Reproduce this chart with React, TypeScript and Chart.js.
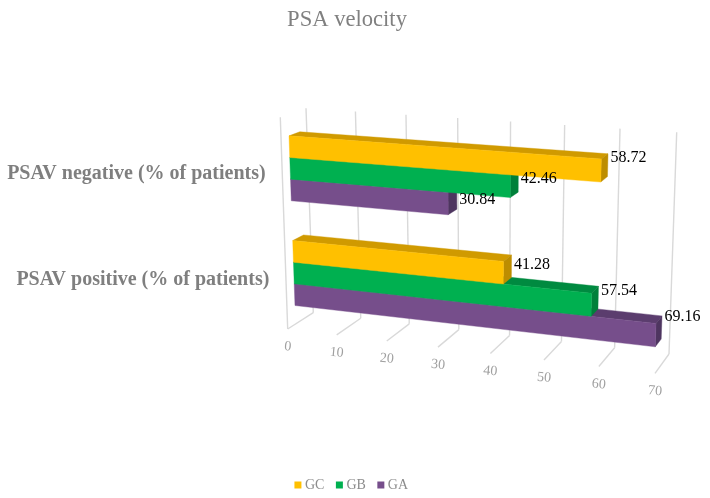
import React, { useEffect, useRef } from "react";
import { Chart, BarController, BarElement, CategoryScale, LinearScale, Legend, Title } from "chart.js";

const categories = ["PSAV negative (% of patients)", "PSAV positive (% of patients)"];
const seriesNames = ["GC", "GB", "GA"];
const gcValues = [58.72, 41.28];
const gbValues = [42.46, 57.54];
const gaValues = [30.84, 69.16];
const seriesColors = ["#FFC000", "#00B050", "#764E8B"];
const topColors = ["#D09A00", "#008A40", "#5B3D6E"];
const sideColors = ["#BD8D00", "#00803A", "#4E3560"];

const SERIF = "'Liberation Serif'";
const AXIS_MAX = 70;
const PERSPECTIVE = 1.083;
const BAR_FRONT = 0.31;
const BAR_BACK = 0.73;
const BAR_DROP = 0.007;
type Pt = [number, number];
// projection frame: [depth front/back][height bottom/top][value start/end]
const FRONT_BOTTOM: [Pt, Pt] = [[287.7, 329], [655, 373.3]];
const FRONT_TOP: [Pt, Pt] = [[280.3, 117.3], [662.7, 144.3]];
const BACK_BOTTOM: [Pt, Pt] = [[313.3, 312.7], [669, 354]];
const BACK_TOP: [Pt, Pt] = [[306, 108.3], [676.7, 132.3]];

const mix = (a: Pt, b: Pt, k: number): Pt => [a[0] + (b[0] - a[0]) * k, a[1] + (b[1] - a[1]) * k];
function project(t: number, h: number, d: number): Pt {
  const s = t / (t + PERSPECTIVE * (1 - t));
  const fb = mix(FRONT_BOTTOM[0], FRONT_BOTTOM[1], s);
  const ft = mix(FRONT_TOP[0], FRONT_TOP[1], s);
  const bb = mix(BACK_BOTTOM[0], BACK_BOTTOM[1], s);
  const bt = mix(BACK_TOP[0], BACK_TOP[1], s);
  return mix(mix(fb, ft, h), mix(bb, bt, h), d);
}
function poly(ctx: CanvasRenderingContext2D, pts: Pt[], color: string) {
  ctx.beginPath();
  pts.forEach((p, i) => (i ? ctx.lineTo(p[0], p[1]) : ctx.moveTo(p[0], p[1])));
  ctx.closePath();
  ctx.fillStyle = color;
  ctx.fill();
  ctx.strokeStyle = color;
  ctx.lineWidth = 0.4;
  ctx.stroke();
}
function line(ctx: CanvasRenderingContext2D, a: Pt, b: Pt) {
  ctx.beginPath();
  ctx.moveTo(a[0], a[1]);
  ctx.lineTo(b[0], b[1]);
  ctx.stroke();
}

// Bars keep their scale-driven geometry; only the way they are painted is changed.
(BarElement.prototype as any).draw = function (ctx: CanvasRenderingContext2D) {
  const chart = Chart.getChart(ctx.canvas) as any;
  if (!chart) return;
  const a = chart.chartArea;
  const { x, y, base, height } = this.getProps(["x", "y", "base", "height"]);
  const t0 = (base - a.left) / (a.right - a.left);
  const t1 = (x - a.left) / (a.right - a.left);
  const h1 = 1 - (y - height / 2 - a.top) / (a.bottom - a.top) - BAR_DROP;
  const h0 = 1 - (y + height / 2 - a.top) / (a.bottom - a.top) - BAR_DROP;
  const color = this.options.backgroundColor as string;
  const idx = seriesColors.indexOf(color);
  ctx.save();
  poly(ctx, [project(t0, h1, BAR_FRONT), project(t1, h1, BAR_FRONT), project(t1, h1, BAR_BACK), project(t0, h1, BAR_BACK)], topColors[idx]);
  poly(ctx, [project(t1, h1, BAR_FRONT), project(t1, h0, BAR_FRONT), project(t1, h0, BAR_BACK), project(t1, h1, BAR_BACK)], sideColors[idx]);
  poly(ctx, [project(t0, h1, BAR_FRONT), project(t1, h1, BAR_FRONT), project(t1, h0, BAR_FRONT), project(t0, h0, BAR_FRONT)], color);
  ctx.restore();
};

Chart.register(BarController, BarElement, CategoryScale, LinearScale, Legend, Title);

const frame3D = {
  id: "frame3D",
  afterLayout(chart: any) {
    chart.legend.left += 6;
    chart.legend.right += 6;
    chart.legend.top += 8;
    chart.legend.bottom += 8;
  },
  beforeDatasetsDraw(chart: any) {
    const { ctx, chartArea: a, scales } = chart;
    ctx.save();
    ctx.strokeStyle = "#D9D9D9";
    ctx.lineWidth = 1.4;
    line(ctx, project(0, 0, 0), project(0, 1, 0));
    scales.x.ticks.forEach((tick: any) => {
      const t = (scales.x.getPixelForValue(tick.value) - a.left) / (a.right - a.left);
      line(ctx, project(t, 0, 0), project(t, 0, 1));
      line(ctx, project(t, 0, 1), project(t, 1, 1));
    });
    ctx.restore();
  },
  afterDatasetsDraw(chart: any) {
    const { ctx, chartArea: a, scales } = chart;
    ctx.save();
    // value axis labels
    ctx.font = `14px ${SERIF}`;
    ctx.fillStyle = "#A0A0A0";
    ctx.textAlign = "center";
    ctx.textBaseline = "middle";
    scales.x.ticks.forEach((tick: any) => {
      const t = (scales.x.getPixelForValue(tick.value) - a.left) / (a.right - a.left);
      const p = project(t, 0, 0);
      ctx.save();
      ctx.translate(p[0], p[1] + 17.7);
      ctx.rotate((5 * Math.PI) / 180);
      ctx.fillText(String(tick.value), 0, 0);
      ctx.restore();
    });
    // category labels
    ctx.font = `bold 20px ${SERIF}`;
    ctx.fillStyle = "#7F7F7F";
    ctx.textAlign = "right";
    categories.forEach((label, i) => {
      const h = 1 - (scales.y.getPixelForValue(i) - a.top) / (a.bottom - a.top);
      const p = project(0, h, 0);
      ctx.fillText(label, p[0] - 16.5, p[1] + 4);
    });
    // data labels
    ctx.font = `16px ${SERIF}`;
    ctx.fillStyle = "#000000";
    ctx.textAlign = "left";
    chart.data.datasets.forEach((ds: any, di: number) => {
      chart.getDatasetMeta(di).data.forEach((el: any, i: number) => {
        const { x, y, height } = el.getProps(["x", "y", "height"]);
        const t = (x - a.left) / (a.right - a.left);
        const h = 1 - (y - height / 2 - a.top) / (a.bottom - a.top) - BAR_DROP;
        const p = project(t, h, BAR_BACK);
        ctx.fillText(ds.data[i].toFixed(2), p[0] + 2.5, p[1] + 22.2 - 21.9 * t);
      });
    });
    ctx.restore();
  },
};

export default function App() {
  const ref = useRef<HTMLCanvasElement>(null);
  useEffect(() => {
    document.body.style.margin = "0";
    const chart = new Chart(ref.current!, {
      type: "bar",
      data: {
        labels: categories,
        datasets: [gcValues, gbValues, gaValues].map((data, i) => ({
          label: seriesNames[i],
          data,
          backgroundColor: seriesColors[i],
          borderWidth: 0,
          barPercentage: 1,
          categoryPercentage: 0.62,
        })),
      },
      options: {
        indexAxis: "y",
        responsive: false,
        animation: false,
        layout: { padding: { right: 16, bottom: 4 } },
        scales: {
          x: { display: false, min: 0, max: AXIS_MAX, ticks: { stepSize: 10 } },
          y: { display: false },
        },
        plugins: {
          title: {
            display: true,
            text: "PSA velocity",
            color: "#808080",
            font: { family: SERIF, size: 22.6, weight: "normal" },
            padding: { top: 7, bottom: 10 },
          },
          legend: {
            position: "bottom",
            labels: {
              usePointStyle: true,
              pointStyle: "rect",
              boxWidth: 0.01,
              boxHeight: 7,
              padding: 15,
              color: "#8C8C8C",
              font: { family: SERIF, size: 14 },
            },
          },
          tooltip: { enabled: false },
        },
      } as any,
      plugins: [frame3D],
    });
    return () => chart.destroy();
  }, []);
  return <canvas ref={ref} width={710} height={498} style={{ display: "block" }} />;
}
